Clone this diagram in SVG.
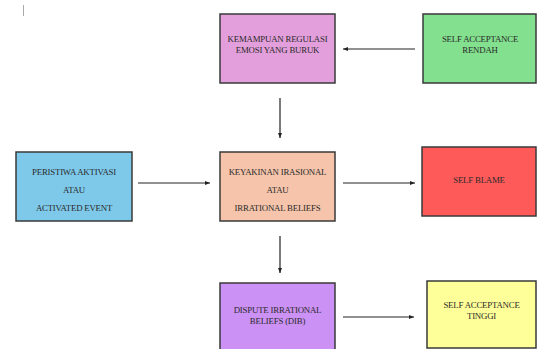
<svg xmlns="http://www.w3.org/2000/svg" width="537" height="349" viewBox="0 0 537 349">
<defs>
<style>
.box{stroke:#3a3a3a;stroke-width:1.5}
.t{font-family:"Liberation Serif","Times New Roman",serif;font-size:8.8px;fill:#2a2a2a;text-anchor:middle;letter-spacing:-0.2px}
.c{stroke:#222;stroke-width:1.2;fill:none}
</style>
<marker id="ah" markerWidth="6" markerHeight="6" refX="5" refY="3" orient="auto" markerUnits="userSpaceOnUse">
<path d="M0,1 L5,3 L0,5 Z" fill="#222"/>
</marker>
</defs>
<rect width="537" height="349" fill="#fff"/>
<line x1="23.5" y1="5" x2="23.5" y2="16" stroke="#aaa" stroke-width="1"/>
<g id="regulasi">
<rect class="box" x="220" y="14" width="115" height="69" fill="#E39FDB"/>
<text class="t" x="277.5" y="42">KEMAMPUAN REGULASI</text>
<text class="t" x="277.5" y="53">EMOSI YANG BURUK</text>
</g>
<g id="sa-rendah">
<rect class="box" x="423" y="14" width="113" height="69" fill="#82E08E"/>
<text class="t" x="480" y="42">SELF ACCEPTANCE</text>
<text class="t" x="480" y="53">RENDAH</text>
</g>
<g id="peristiwa">
<rect class="box" x="16" y="152" width="116" height="69" fill="#7EC9EA"/>
<text class="t" x="74" y="175">PERISTIWA AKTIVASI</text>
<text class="t" x="74" y="193">ATAU</text>
<text class="t" x="74" y="211">ACTIVATED EVENT</text>
</g>
<g id="keyakinan">
<rect class="box" x="220" y="152" width="115" height="69" fill="#F5C4AA"/>
<text class="t" x="277.5" y="175">KEYAKINAN IRASIONAL</text>
<text class="t" x="277.5" y="193">ATAU</text>
<text class="t" x="277.5" y="211">IRRATIONAL BELIEFS</text>
</g>
<g id="self-blame">
<rect class="box" x="422" y="147" width="114" height="69" fill="#FF5A5A"/>
<text class="t" x="479" y="183">SELF BLAME</text>
</g>
<g id="dib">
<rect class="box" x="220" y="283" width="115" height="70" fill="#CC91F5"/>
<text class="t" x="277.5" y="313">DISPUTE IRRATIONAL</text>
<text class="t" x="277.5" y="324">BELIEFS (DIB)</text>
</g>
<g id="sa-tinggi">
<rect class="box" x="427" y="281" width="109" height="67" fill="#FFFF99"/>
<text class="t" x="481.5" y="308">SELF ACCEPTANCE</text>
<text class="t" x="481.5" y="319">TINGGI</text>
</g>
<g id="connectors">
<line class="c" x1="415" y1="49" x2="343" y2="49" marker-end="url(#ah)"/>
<line class="c" x1="280" y1="98" x2="280" y2="138" marker-end="url(#ah)"/>
<line class="c" x1="138" y1="183" x2="210" y2="183" marker-end="url(#ah)"/>
<line class="c" x1="343" y1="183" x2="415" y2="183" marker-end="url(#ah)"/>
<line class="c" x1="280" y1="236" x2="280" y2="273" marker-end="url(#ah)"/>
<line class="c" x1="343" y1="317" x2="414" y2="317" marker-end="url(#ah)"/>
</g>
</svg>
